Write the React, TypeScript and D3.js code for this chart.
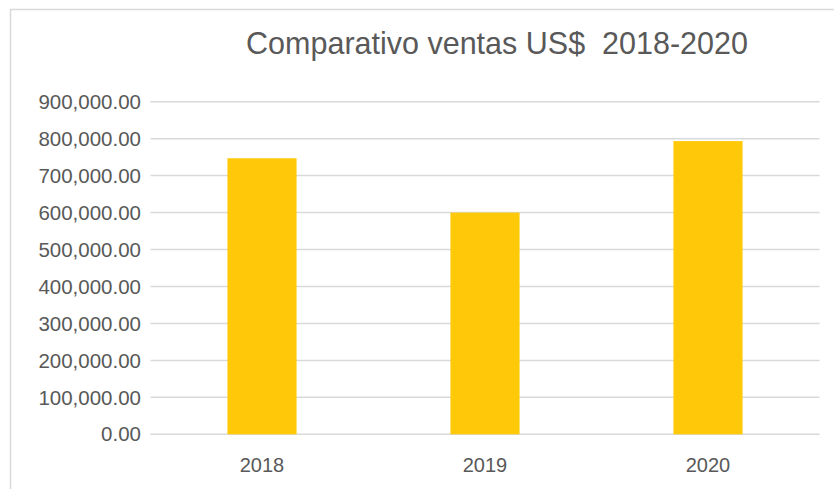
import React from "react";
import * as d3 from "d3";

const categories = ["2018", "2019", "2020"];
const sales = [747000, 600000, 793500];
const yTicks = [0, 100000, 200000, 300000, 400000, 500000, 600000, 700000, 800000, 900000];
const title = "Comparativo ventas US$  2018-2020";

export default function App() {
  const W = 834, H = 489;
  const left = 150.5, right = 819.5, top = 101.7, bottom = 434.3;
  const x = d3.scaleBand<string>().domain(categories).range([left, right]).paddingInner(0.69).paddingOuter(0.345);
  const y = d3.scaleLinear().domain([0, 900000]).range([bottom, top]);
  const fmt = d3.format(",.2f");
  const font = "'Liberation Sans', sans-serif";
  return (
    <svg width={W} height={H} style={{ position: "absolute", left: 0, top: 0 }} fontFamily={font}>
      <rect x={0} y={0} width={W} height={H} fill="#fff" />
      <rect x={10.5} y={9.5} width={W + 20} height={H + 20} fill="#fff" stroke="#d9d9d9" strokeWidth={1.5} />
      <text x={497} y={54} textAnchor="middle" fontSize={30.5} fill="#595959" style={{ whiteSpace: "pre" }}>{title}</text>
      {yTicks.map((t) => (
        <g key={t}>
          <line x1={left} x2={right} y1={y(t)} y2={y(t)} stroke="#d9d9d9" strokeWidth={1.5} />
          <text x={141} y={y(t)} dy="0.35em" textAnchor="end" fontSize={20.5} fill="#595959">{fmt(t)}</text>
        </g>
      ))}
      {categories.map((c, i) => (
        <rect key={c} x={x(c)} y={y(sales[i])} width={x.bandwidth()} height={y(0) - y(sales[i])} fill="#FFC90A" />
      ))}
      {categories.map((c) => (
        <text key={c} x={(x(c) as number) + x.bandwidth() / 2} y={465} dy="0.35em" textAnchor="middle" fontSize={20} fill="#595959">{c}</text>
      ))}
    </svg>
  );
}
